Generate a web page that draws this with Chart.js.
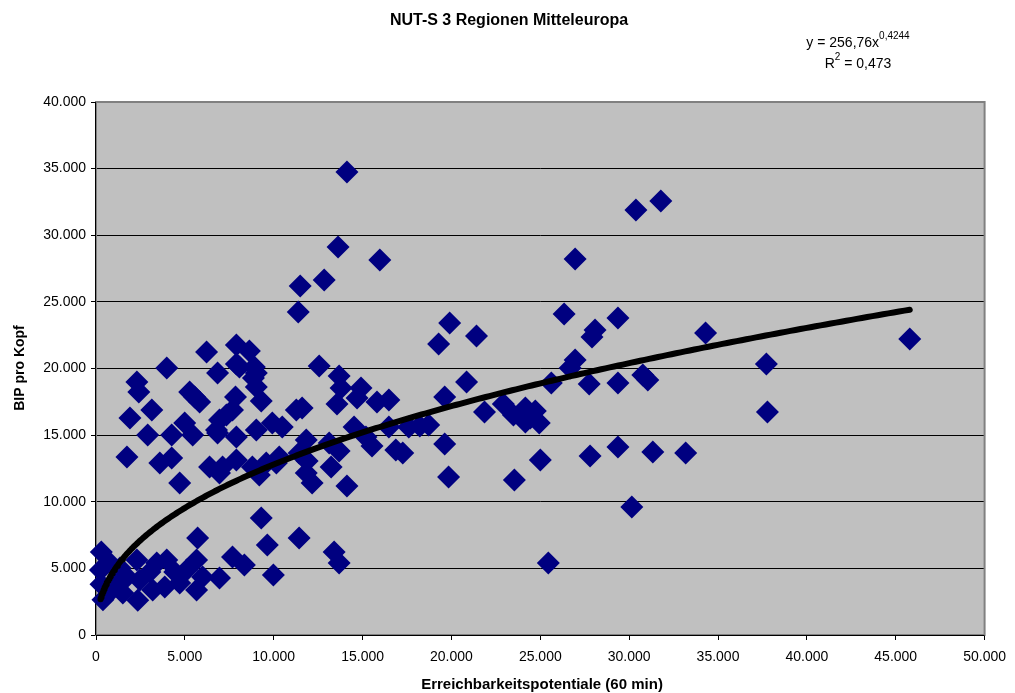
<!DOCTYPE html>
<html>
<head>
<meta charset="utf-8">
<script src="https://cdn.jsdelivr.net/npm/chart.js@4"></script>
<style>
html,body{margin:0;padding:0;background:#fff;}
canvas{display:block;}
</style>
</head>
<body>
<canvas id="c" width="1015" height="693"></canvas>
<script>
// Erreichbarkeitspotentiale (60 min) per NUTS-3 region
const xValues = [
 14120,31780,30380,13620,15970,26960,11490,12840,11380,26340,29370,19900,28080,27910,34300,21410,45790,19280,
 12560,37720,26960,26680,30770,31050,29370,27750,20850,25620,19620,37780,21860,22920,23490,24160,24440,24720,
 24940,24160,19620,29370,31330,33180,27800,25000,23540,19840,30150,25450,
 13680,13790,14910,13560,14690,15810,16480,14520,15530,17260,18220,11600,10480,11830,13120,13680,11880,13230,
 12160,14120,15190,16480,17600,16870,18720,11430,11270,10150,11830,
 6220,7900,8630,3980,2300,2410,6840,7900,8910,8860,5270,5830,3140,1910,7850,9300,7340,4990,4260,2910,5440,6780,
 1740,3590,4260,4710,6390,7120,7900,8800,9580,10310,9190,7680,6950,9020,9920,9020,5550,9020,8070,6950,6840,7900,
 300,250,390,780,950,1740,2300,2470,3420,3980,5100,5660,6000,6950,2350,1510,3190,4710,5660,5720,7680,8350,9300,
 9640,9980,11430,13400,13680,3030,4430,1350,280,780,3870
];
// BIP pro Kopf per NUTS-3 region
const yValues = [
 34750,32570,31900,29120,28140,28220,26190,26640,24240,24090,23790,23420,22890,22370,22670,22440,22210,21840,
 20190,20340,20640,20040,19510,19140,18910,18840,18990,18910,17860,16740,16740,17340,16510,17040,16290,16810,
 15910,15990,14330,14110,13730,13660,13430,13130,11630,11860,9610,5400,
 19440,18540,18540,17340,17790,17490,17640,15610,14180,13660,15690,17040,15610,14630,14410,13810,13060,12610,
 11410,11180,14860,15610,15610,13880,15760,13660,16890,12910,12160,
 21240,21760,21310,20040,18990,18240,19660,20340,20110,19290,18240,17490,16890,16290,17860,17560,16510,15910,15010,15010,15010,15390,
 13360,12910,13280,11410,12610,12610,13130,12610,12910,13360,12010,16890,16140,15390,15910,18610,17860,19660,20110,12160,15160,14860,
 6230,4880,2650,5400,3900,4350,5630,4130,5400,5630,4880,5630,4350,4280,2600,3150,3380,3900,3380,7280,5850,5250,8780,
 6750,4500,7280,6230,5400,4730,4730,5030,3800,3230,3600
];
const xTickLabels = ['0','5.000','10.000','15.000','20.000','25.000','30.000','35.000','40.000','45.000','50.000'];
const yTickLabels = ['0','5.000','10.000','15.000','20.000','25.000','30.000','35.000','40.000'];
// Power trendline as stated in the chart: y = 256,76 x^0,4244 ; R² = 0,473
const trendA = 256.76;
const trendB = 0.4244;
const trendLabel = ['y = 256,76x', '0,4244'];
const r2Label = ['R', '2', ' = 0,473'];

const FONT = "'Liberation Sans', Arial, sans-serif";
const points = xValues.map((x, i) => ({x: x, y: yValues[i]}));
const xMin = Math.min(...xValues), xMax = Math.max(...xValues);
const trend = [];
for (let i = 0; i <= 300; i++) {
  const x = xMin + (xMax - xMin) * Math.pow(i / 300, 2);
  trend.push({x: x, y: trendA * Math.pow(x, trendB)});
}

const decor = {
  id: 'decor',
  beforeDraw(chart) {
    const {ctx, chartArea: a} = chart;
    ctx.save();
    ctx.fillStyle = '#C0C0C0';
    ctx.fillRect(a.left, a.top, a.right - a.left, a.bottom - a.top);
    ctx.restore();
  },
  beforeDatasetsDraw(chart) {
    const {ctx, chartArea: a} = chart;
    ctx.save();
    ctx.strokeStyle = '#808080';
    ctx.lineWidth = 2;
    ctx.strokeRect(a.left, a.top, a.right - a.left, a.bottom - a.top);
    ctx.strokeStyle = '#000';
    ctx.lineWidth = 1;
    ctx.beginPath();
    ctx.moveTo(a.left - 0.5, a.top); ctx.lineTo(a.left - 0.5, a.bottom);
    ctx.moveTo(a.left, a.bottom + 0.5); ctx.lineTo(a.right, a.bottom + 0.5);
    ctx.stroke();
    ctx.restore();
  },
  afterDraw(chart) {
    const {ctx, chartArea: a} = chart;
    ctx.save();
    ctx.fillStyle = '#000';
    ctx.textBaseline = 'middle';
    ctx.textAlign = 'center';
    ctx.font = 'bold 16px ' + FONT;
    ctx.fillText('NUT-S 3 Regionen Mitteleuropa', 509, 21);
    ctx.font = 'bold 15px ' + FONT;
    ctx.fillText('Erreichbarkeitspotentiale (60 min)', 542, 685);
    ctx.font = 'bold 14px ' + FONT;
    ctx.save();
    ctx.translate(20, 368);
    ctx.rotate(-Math.PI / 2);
    ctx.fillText('BIP pro Kopf', 0, 0);
    ctx.restore();
    // equation
    ctx.textAlign = 'left';
    ctx.textBaseline = 'alphabetic';
    ctx.font = '14px ' + FONT;
    const w1 = ctx.measureText(trendLabel[0]).width;
    ctx.font = '10px ' + FONT;
    const w2 = ctx.measureText(trendLabel[1]).width;
    let x0 = 858 - (w1 + w2) / 2;
    ctx.font = '14px ' + FONT;
    ctx.fillText(trendLabel[0], x0, 47);
    ctx.font = '10px ' + FONT;
    ctx.fillText(trendLabel[1], x0 + w1, 39);
    ctx.font = '14px ' + FONT;
    const r1 = ctx.measureText(r2Label[0]).width;
    const r3 = ctx.measureText(r2Label[2]).width;
    ctx.font = '10px ' + FONT;
    const r2w = ctx.measureText(r2Label[1]).width;
    x0 = 858 - (r1 + r2w + r3) / 2;
    ctx.font = '14px ' + FONT;
    ctx.fillText(r2Label[0], x0, 68);
    ctx.font = '10px ' + FONT;
    ctx.fillText(r2Label[1], x0 + r1, 60);
    ctx.font = '14px ' + FONT;
    ctx.fillText(r2Label[2], x0 + r1 + r2w, 68);
    ctx.restore();
  }
};

new Chart(document.getElementById('c'), {
  type: 'scatter',
  data: {
    datasets: [
      {
        label: 'Trend',
        data: trend,
        showLine: true,
        pointRadius: 0,
        borderColor: '#000',
        borderWidth: 6,
        borderCapStyle: 'round',
        borderJoinStyle: 'round',
        tension: 0,
        order: 0
      },
      {
        label: 'Regionen',
        data: points,
        pointStyle: 'rectRot',
        pointRadius: 11.5,
        backgroundColor: '#000080',
        borderColor: '#000080',
        borderWidth: 0,
        clip: false,
        order: 1
      }
    ]
  },
  options: {
    responsive: false,
    animation: false,
    devicePixelRatio: 1,
    layout: {padding: {top: 102, right: 27, left: 0, bottom: 0}},
    plugins: {legend: {display: false}, tooltip: {enabled: false}, title: {display: false}},
    scales: {
      x: {
        type: 'linear', min: 0, max: 50000,
        afterFit(s) { s.height = 58; },
        afterBuildTicks(s) { s.ticks = xTickLabels.map((t, i) => ({value: i * 5000})); },
        grid: {drawOnChartArea: false, drawTicks: true, tickLength: 5, tickColor: '#000'},
        border: {display: false},
        ticks: {
          padding: 9, color: '#000', maxRotation: 0,
          font: {family: FONT, size: 14},
          callback: (v, i) => xTickLabels[i]
        }
      },
      y: {
        type: 'linear', min: 0, max: 40000,
        afterFit(s) { s.width = 96; },
        afterBuildTicks(s) { s.ticks = yTickLabels.map((t, i) => ({value: i * 5000})); },
        grid: {drawOnChartArea: true, drawTicks: true, tickLength: 5, color: '#000', tickColor: '#000', lineWidth: 1},
        border: {display: false},
        ticks: {
          padding: 5, color: '#000',
          font: {family: FONT, size: 14},
          callback: (v, i) => yTickLabels[i]
        }
      }
    }
  },
  plugins: [decor]
});
</script>
</body>
</html>
